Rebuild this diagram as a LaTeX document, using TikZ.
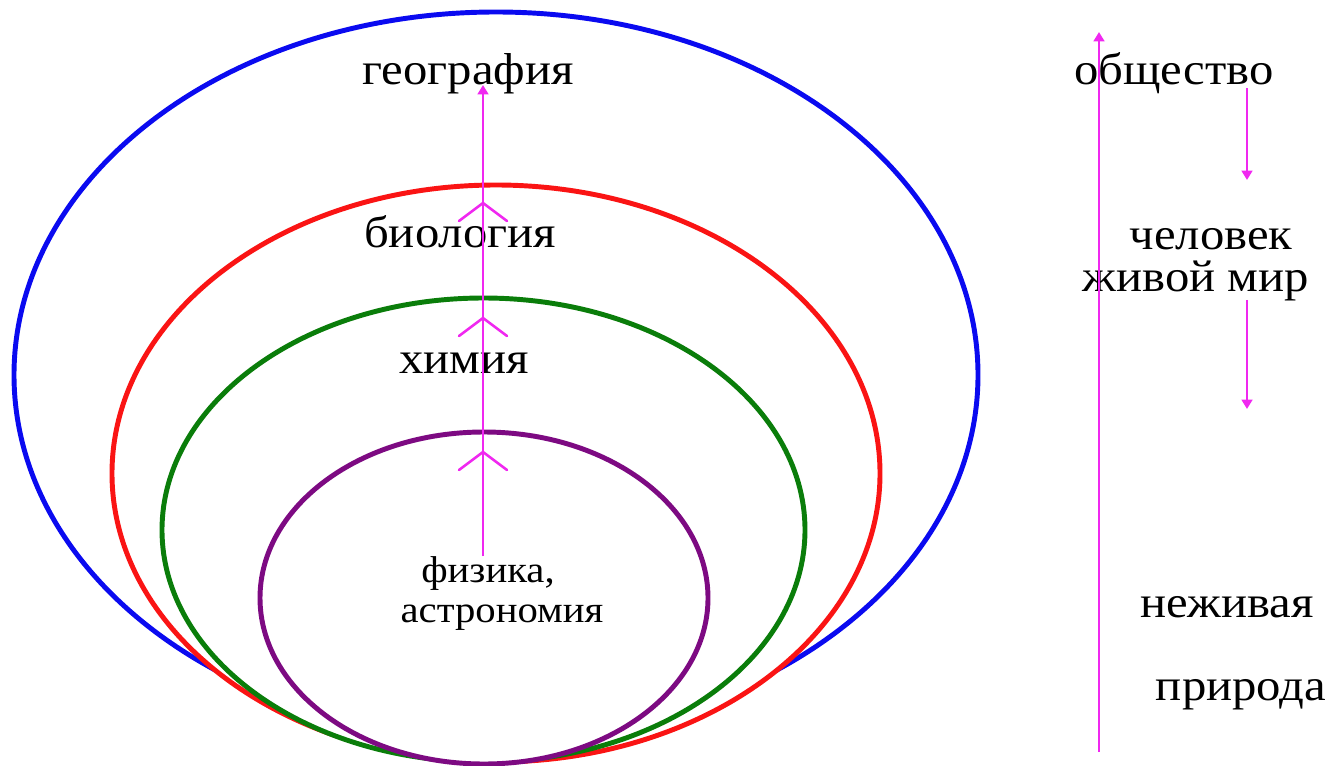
\documentclass[tikz,border=0pt]{standalone}
\usepackage{fontspec}
\setmainfont{Liberation Serif}[FakeStretch=1.09]
\usetikzlibrary{arrows.meta}
\definecolor{cblue}{RGB}{10,10,240}
\definecolor{cred}{RGB}{250,20,20}
\definecolor{cgreen}{RGB}{10,125,10}
\definecolor{cpurple}{RGB}{125,10,130}
\definecolor{cpink}{RGB}{240,40,240}
\begin{document}
\begin{tikzpicture}[x=0.75pt,y=-0.75pt,
  ring/.style={line width=3.7pt,fill=white},
  lbl/.style={font=\fontsize{33.5}{36}\selectfont,inner sep=0pt,anchor=base},
  slbl/.style={font=\fontsize{28}{32}\selectfont,inner sep=0pt,anchor=base},
  pk/.style={draw=cpink,line width=1.9pt},
  pkarrow/.style={pk,-{Triangle[length=7pt,width=8pt]}},
  chev/.style={pk,line cap=round}]
\useasboundingbox (0,0) rectangle (1330,766);
% ellipses
\draw[ring,draw=cblue] (496,375) ellipse [x radius=482, y radius=363];
\draw[ring,draw=cred] (496,473.5) ellipse [x radius=384, y radius=288.5];
\draw[ring,draw=cgreen] (483.5,530) ellipse [x radius=321.5, y radius=232];
\draw[ring,draw=cpurple] (484,598) ellipse [x radius=224, y radius=166];
% labels
\node[lbl] (geo) at (468,85) {география};
\node[lbl] (bio) at (460,248) {биология};
\node[lbl] (chem) at (464,373) {химия};
\node[slbl] (phys) at (488,582) {физика,};
\node[slbl] (astro) at (502,622) {астрономия};
\node[lbl] (soc) at (1174,85) {общество};
\node[lbl] (man) at (1211,250) {человек};
\node[lbl] (live) at (1196,292) {живой мир};
\node[lbl] (nonl) at (1227,617) {неживая};
\node[lbl] (nat) at (1241,700) {природа};
% central arrow
\coordinate (cb) at (483,556);
\coordinate (ct) at (483,85);
\draw[pkarrow] (cb) -- (ct);
\foreach \yy in {203,318,452}{
  \coordinate (ap) at (483,\yy);
  \draw[chev] (459,\yy+18) -- (ap) -- (507,\yy+18);
}
% right arrows
\coordinate (rb) at (1099,752);
\coordinate (rt) at (1099,32);
\draw[pkarrow] (rb) -- (rt);
\coordinate (a1s) at (1247,88);
\coordinate (a1e) at (1247,180);
\draw[pkarrow] (a1s) -- (a1e);
\coordinate (a2s) at (1247,300);
\coordinate (a2e) at (1247,409);
\draw[pkarrow] (a2s) -- (a2e);
\end{tikzpicture}
\end{document}
